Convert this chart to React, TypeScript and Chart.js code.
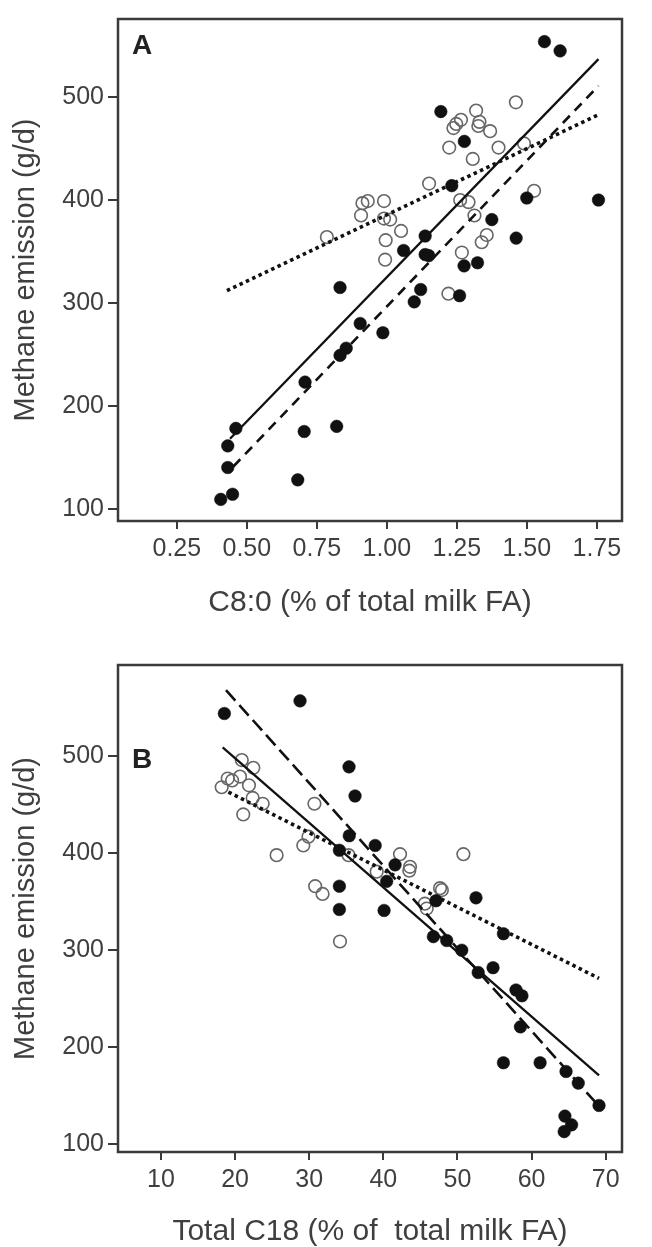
import React, { useEffect, useRef } from "react";
import { Chart, registerables } from "chart.js";
Chart.register(...registerables);

// ---------- Panel A data ----------
const aFilledX = [1.563, 1.619, 1.193, 1.277, 1.232, 1.5, 1.756, 1.375, 1.462, 1.137, 1.06, 1.137, 1.15, 1.276, 1.324, 1.26, 1.121, 1.098, 0.833, 0.905, 0.986, 0.855, 0.833, 0.708, 0.705, 0.821, 0.461, 0.432, 0.432, 0.682, 0.449, 0.407];
const aFilledY = [554, 545, 486, 457, 414, 402, 400, 381, 363, 365, 351, 347, 346, 336, 339, 307, 313, 301, 315, 280, 271, 256, 249, 223, 175, 180, 178, 161, 140, 128, 114, 109];
const aOpenX = [1.461, 1.319, 1.265, 1.248, 1.238, 1.331, 1.327, 1.369, 1.223, 1.399, 1.49, 1.307, 1.151, 1.526, 1.262, 1.292, 1.313, 1.357, 1.339, 1.268, 1.22, 0.913, 0.932, 0.99, 0.908, 0.99, 1.012, 1.051, 0.996, 0.994, 0.786];
const aOpenY = [495, 487, 478, 474, 470, 476, 472, 467, 451, 451, 455, 440, 416, 409, 400, 398, 385, 366, 359, 349, 309, 397, 399, 399, 385, 382, 381, 370, 361, 342, 364];
const aSolidLine = [{ x: 0.44, y: 168 }, { x: 1.756, y: 537 }];
const aDashedLine = [{ x: 0.452, y: 141 }, { x: 1.756, y: 511 }];
const aDottedLine = [{ x: 0.429, y: 312 }, { x: 1.756, y: 483 }];
const aXTicks = [0.25, 0.5, 0.75, 1.0, 1.25, 1.5, 1.75];
const aYTicks = [100, 200, 300, 400, 500];

// ---------- Panel B data ----------
const bFilledX = [18.55, 28.76, 35.37, 36.18, 35.4, 38.9, 34.07, 41.58, 40.45, 34.07, 34.07, 40.1, 47.1, 52.5, 56.2, 46.75, 48.55, 50.58, 52.8, 54.8, 57.9, 58.7, 58.5, 56.2, 61.15, 64.65, 66.3, 69.1, 64.5, 65.4, 64.4];
const bFilledY = [544, 557, 489, 459, 418, 408, 403, 388, 371, 366, 342, 341, 351, 354, 317, 314, 310, 300, 277, 282, 259, 253, 221, 184, 184, 175, 163, 140, 129, 120, 113];
const bOpenX = [20.9, 22.46, 19.0, 19.6, 20.66, 18.19, 21.87, 22.37, 23.72, 21.1, 30.7, 29.9, 29.2, 25.6, 35.3, 39.1, 42.25, 43.6, 43.5, 50.8, 30.8, 31.8, 47.65, 47.9, 45.6, 45.85, 34.15];
const bOpenY = [496, 488, 477, 475, 479, 468, 470, 457, 451, 440, 451, 417, 408, 398, 398, 381, 399, 386, 382, 399, 366, 358, 364, 362, 348, 343, 309];
const bSolidLine = [{ x: 18.32, y: 509 }, { x: 69.1, y: 171 }];
const bDashedLine = [{ x: 18.77, y: 568 }, { x: 69.0, y: 140 }];
const bDottedLine = [{ x: 19.1, y: 463 }, { x: 69.1, y: 271 }];
const bXTicks = [10, 20, 30, 40, 50, 60, 70];
const bYTicks = [100, 200, 300, 400, 500];

const FONT = "'Liberation Sans', Arial, Helvetica, sans-serif";
const TEXT = "#3f3f3f";
const FRAME = "#3a3a3a";

const zip = (xs: number[], ys: number[]) => xs.map((x, i) => ({ x, y: ys[i] }));

type PanelCfg = {
  letter: string;
  letterDy: number;
  filled: { x: number; y: number }[];
  open: { x: number; y: number }[];
  solid: { x: number; y: number }[];
  dashed: { x: number; y: number }[];
  dotted: { x: number; y: number }[];
  dash: number[];
  xTicks: number[];
  yTicks: number[];
  xMin: number; xMax: number; yMin: number; yMax: number;
  xDecimals: number;
  xTitle: string;
  padTop: number;
  xHeight: number;
  xTitlePad: number;
};

function makeChart(canvas: HTMLCanvasElement, p: PanelCfg) {
  const framePlugin = {
    id: "frame" + p.letter,
    afterDraw(chart: any) {
      const { ctx, chartArea: a } = chart;
      ctx.save();
      ctx.strokeStyle = FRAME;
      ctx.lineWidth = 2.5;
      ctx.strokeRect(a.left, a.top, a.right - a.left, a.bottom - a.top);
      ctx.fillStyle = "#222";
      ctx.font = `bold 28px ${FONT}`;
      ctx.textAlign = "left";
      ctx.textBaseline = "middle";
      ctx.fillText(p.letter, a.left + 14, a.top + p.letterDy);
      ctx.restore();
    },
  };
  const lineDs = (data: any[], dash: number[], width: number) => ({
    type: "line" as const,
    data,
    showLine: true,
    borderColor: "#111",
    borderWidth: width,
    borderDash: dash,
    borderCapStyle: "butt",
    pointRadius: 0,
    fill: false,
  });
  return new Chart(canvas, {
    type: "scatter",
    data: {
      datasets: [
        lineDs(p.solid, [], 2.3),
        lineDs(p.dashed, p.dash, 2.6),
        lineDs(p.dotted, [3.5, 3.5], 3.6),
        {
          data: p.filled,
          pointRadius: 6.3,
          pointBackgroundColor: "#111",
          pointBorderColor: "#111",
          pointBorderWidth: 0.5,
        },
        {
          data: p.open,
          pointRadius: 6.3,
          pointBackgroundColor: "rgba(0,0,0,0)",
          pointBorderColor: "#666",
          pointBorderWidth: 1.6,
        },
      ] as any,
    },
    options: {
      animation: false,
      responsive: false,
      maintainAspectRatio: false,
      layout: { padding: { top: p.padTop, right: 30, left: 0, bottom: 0 } },
      plugins: { legend: { display: false }, tooltip: { enabled: false } },
      scales: {
        x: {
          type: "linear",
          min: p.xMin,
          max: p.xMax,
          afterFit: (s: any) => { s.height = p.xHeight; },
          afterBuildTicks: (s: any) => { s.ticks = p.xTicks.map((v) => ({ value: v })); },
          grid: { drawOnChartArea: false, drawTicks: true, tickLength: 8, color: FRAME, lineWidth: 2 },
          border: { display: false },
          ticks: {
            color: TEXT,
            font: { family: FONT, size: 25 },
            padding: 5,
            maxRotation: 0,
            callback: (v: any) => Number(v).toFixed(p.xDecimals),
          },
          title: {
            display: true,
            text: p.xTitle,
            color: TEXT,
            font: { family: FONT, size: 30, lineHeight: 1 },
            padding: { top: 0, bottom: p.xTitlePad },
          },
        },
        y: {
          type: "linear",
          min: p.yMin,
          max: p.yMax,
          afterFit: (s: any) => { s.width = 118; },
          afterBuildTicks: (s: any) => { s.ticks = p.yTicks.map((v) => ({ value: v })); },
          grid: { drawOnChartArea: false, drawTicks: true, tickLength: 10, color: FRAME, lineWidth: 2 },
          border: { display: false },
          ticks: { color: TEXT, font: { family: FONT, size: 25 }, padding: 4 },
          title: {
            display: true,
            text: "Methane emission (g/d)",
            color: TEXT,
            font: { family: FONT, size: 29, lineHeight: 1 },
            padding: { top: 11, bottom: 0 },
          },
        },
      },
    } as any,
    plugins: [framePlugin],
  });
}

function Panel({ cfg }: { cfg: PanelCfg }) {
  const ref = useRef<HTMLCanvasElement | null>(null);
  useEffect(() => {
    if (!ref.current) return;
    const c = makeChart(ref.current, cfg);
    return () => c.destroy();
  }, [cfg]);
  return <canvas ref={ref} width={652} height={640} style={{ display: "block", width: 652, height: 640 }} />;
}

const panelA: PanelCfg = {
  letter: "A",
  letterDy: 27,
  filled: zip(aFilledX, aFilledY),
  open: zip(aOpenX, aOpenY),
  solid: aSolidLine,
  dashed: aDashedLine,
  dotted: aDottedLine,
  dash: [10, 7],
  xTicks: aXTicks,
  yTicks: aYTicks,
  xMin: 0.04, xMax: 1.84, yMin: 88, yMax: 576,
  xDecimals: 2,
  xTitle: "C8:0 (% of total milk FA)",
  padTop: 11,
  xHeight: 119,
  xTitlePad: 22,
};

const panelB: PanelCfg = {
  letter: "B",
  letterDy: 95,
  filled: zip(bFilledX, bFilledY),
  open: zip(bOpenX, bOpenY),
  solid: bSolidLine,
  dashed: bDashedLine,
  dotted: bDottedLine,
  dash: [14, 6],
  xTicks: bXTicks,
  yTicks: bYTicks,
  xMin: 4.2, xMax: 72.2, yMin: 92, yMax: 594,
  xDecimals: 0,
  xTitle: "Total C18 (% of  total milk FA)",
  padTop: 25,
  xHeight: 128,
  xTitlePad: 33,
};

export default function App() {
  return (
    <div style={{ width: 652, height: 1247, overflow: "hidden", background: "#fff" }}>
      <style>{`body{margin:0;background:#fff}`}</style>
      <Panel cfg={panelA} />
      <Panel cfg={panelB} />
    </div>
  );
}
